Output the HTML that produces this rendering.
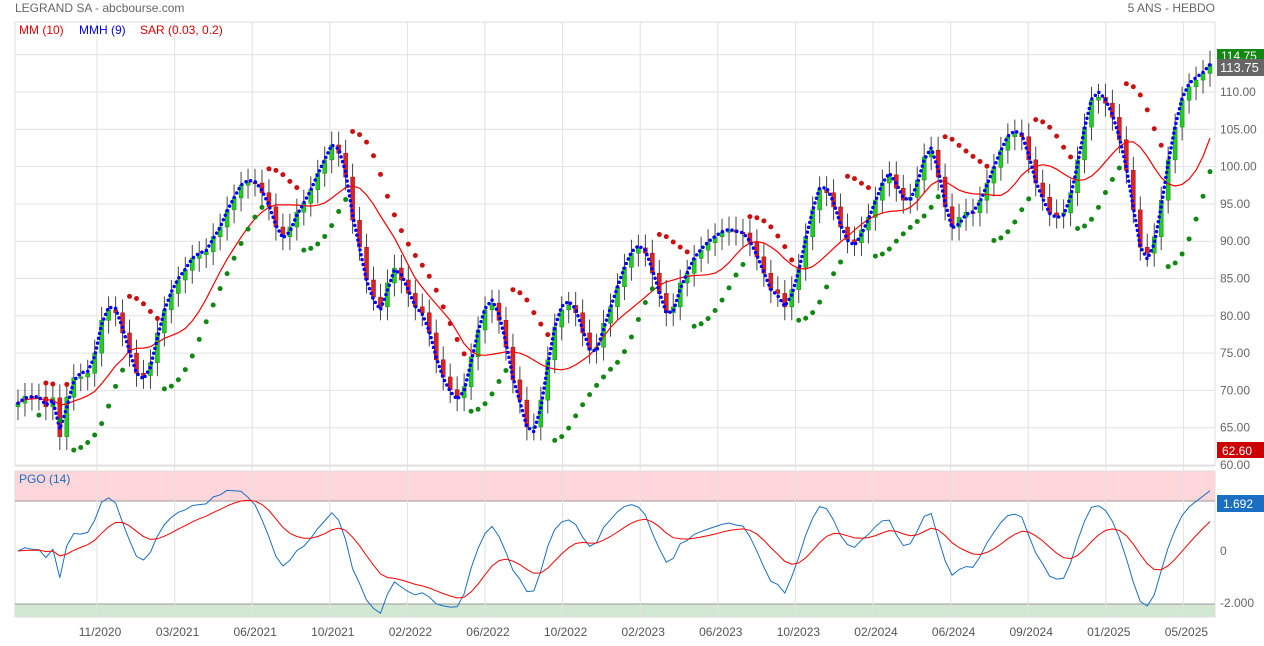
<!DOCTYPE html>
<html><head><meta charset="utf-8"><style>
body{margin:0;background:#fff;width:1264px;height:641px;overflow:hidden;font-family:"Liberation Sans",sans-serif}
svg text{font-family:"Liberation Sans",sans-serif}
</style></head><body>
<svg id="c" width="1264" height="641" xmlns="http://www.w3.org/2000/svg">
<text x="15" y="12" font-size="12" fill="#666">LEGRAND SA - abcbourse.com</text>
<text x="1215" y="12" font-size="12" fill="#666" text-anchor="end">5 ANS - HEBDO</text>
<rect x="15" y="22" width="1200" height="444" fill="none" stroke="#ddd"/>
<rect x="15" y="471" width="1200" height="30" fill="#ffd6d9"/>
<rect x="15" y="604" width="1200" height="13" fill="#d3e8d3"/>
<rect x="15" y="471" width="1200" height="146" fill="none" stroke="#ddd"/>
<line x1="15" x2="1215" y1="501" y2="501" stroke="#999"/>
<line x1="15" x2="1215" y1="604" y2="604" stroke="#999"/>
<g id="grid"></g>
<g id="marks"></g>
<text x="19" y="34" font-size="12" fill="#e00">MM (10)</text>
<text x="79" y="34" font-size="12" fill="#00e">MMH (9)</text>
<text x="140" y="34" font-size="12" fill="#d00">SAR (0.03, 0.2)</text>
<text x="19" y="483" font-size="12" fill="#1a6fc4">PGO (14)</text>
<rect x="1217" y="49" width="47" height="14" fill="#118811"/>
<text x="1221" y="60" font-size="12" fill="#fff">114.75</text>
<rect x="1217" y="59" width="47" height="17" fill="#666"/>
<text x="1220" y="72" font-size="13" fill="#fff">113.75</text>
<rect x="1217" y="442" width="47" height="16" fill="#c00"/>
<text x="1222" y="455" font-size="12" fill="#fff">62.60</text>
<rect x="1217" y="495" width="47" height="17" fill="#1a6fc4"/>
<text x="1223" y="508" font-size="12" fill="#fff">1.692</text>
</svg>
<script>
const closes=[68.3,69.2,69.1,69.1,67.8,69,63.8,69.1,71.7,71.8,72.3,75,79.4,80.8,80.4,77.7,75,72.3,72,73.7,77.7,80.8,83,84.8,86.1,87.7,88.2,88.6,90.6,91.9,94.2,95.8,97.5,97.9,97.8,96.5,94.6,91.9,90.6,91.9,93.9,95.1,96.9,99.1,100.9,102.9,101.8,98.6,92.8,89.2,84.8,82.5,81.2,84.4,86.4,84.8,83,81.2,80.4,77.7,74.1,71.8,70.1,69,70.5,74.5,78.1,80.8,81.7,79.4,75.8,71.4,68.7,65.1,65.1,68.7,74.1,78.5,80.8,81.4,80.4,77.7,75.4,75.8,79,81.2,83.9,86.5,88.4,89.1,88.4,85.7,83,80.4,81.2,84.4,85.7,87.7,88.8,89.8,90.6,91.2,91.5,91.2,91.1,89.8,87.9,85.7,83.5,83,81.2,83.5,86.5,90.6,94.2,96.9,96.5,94.6,91.9,90.2,89.8,91.5,93.2,95.5,97.8,98.9,97.1,95.5,95.9,98.2,101.3,102.2,98.6,94.6,91.9,93.2,93.9,93.8,95.5,97.8,99.9,102.2,104,104.5,104,100.9,97.8,95.9,93.8,93.5,93.8,96.5,100.9,105.3,108.9,109.3,108.5,106.6,103.6,99.5,94.2,89.2,88.4,90.6,95.5,100.9,105.3,108.9,110.7,111.6,112.5,113.75];
const priceTicks=[115,110,105,100,95,90,85,80,75,70,65,60];
const pgoTicks=[0,-2];
const pgoTickLabels=["0","-2.000"];
const dateLabels=["11/2020","03/2021","06/2021","10/2021","02/2022","06/2022","10/2022","02/2023","06/2023","10/2023","02/2024","06/2024","09/2024","01/2025","05/2025"];

const NS="http://www.w3.org/2000/svg";
const N=closes.length;
const xS=i=>18+i*(1210-18)/(N-1);
const yP=p=>92+(110-p)*7.46;
const yG=v=>551-v*26;
function mk(tag,attrs,parent){const e=document.createElementNS(NS,tag);for(const k in attrs)e.setAttribute(k,attrs[k]);parent.appendChild(e);return e;}
const grid=document.getElementById('grid'),marks=document.getElementById('marks');

priceTicks.forEach(p=>{
  const y=yP(p);
  if(y>24&&y<466){const l=mk('line',{x1:15,x2:1215,y1:y,y2:y,stroke:'#e2e2e2'},grid);
  
  }
  const t=mk('text',{x:1220,y:y+4,'font-size':12,fill:'#666'},grid);t.textContent=p.toFixed(2);
  
  
});
pgoTicks.forEach((v,i)=>{
  const t=mk('text',{x:1220,y:yG(v)+4,'font-size':12,fill:'#666'},grid);t.textContent=pgoTickLabels[i];
  
  
});
dateLabels.forEach((d,i)=>{
  const x=97+i*77.6;
  const l=mk('line',{x1:x,x2:x,y1:22,y2:617,stroke:'#e2e2e2'},grid);
  
  
  const t=mk('text',{x:x+3,y:636,'font-size':12,fill:'#555','text-anchor':'middle'},grid);t.textContent=d;
  
  
});

// derived OHLC
const opens=closes.map((c,i)=>i?closes[i-1]:c-0.5);
const highs=closes.map((c,i)=>Math.max(c,opens[i])+1.8);
const lows=closes.map((c,i)=>Math.min(c,opens[i])-1.8);

// MM 10
const mm=closes.map((c,i)=>{const s=closes.slice(Math.max(0,i-9),i+1);return s.reduce((a,b)=>a+b,0)/s.length;});
// Hull-type MA (scaled to sample density)
function wma(arr,n){return arr.map((v,i)=>{let s=0,w=0;for(let k=0;k<n&&i-k>=0;k++){s+=arr[i-k]*(n-k);w+=n-k;}return s/w;});}
const w2=wma(closes,2),w4=wma(closes,4);
const hma=wma(w2.map((v,i)=>2*v-w4[i]),2).map((v,i)=>(v+closes[i])/2);
// SAR
const sar=[],sarUp=[];
(function(){let up=true,af=0.03,ep=highs[0],s=lows[0];
for(let i=0;i<N;i++){
  if(i>0){s=s+af*(ep-s);
    if(up){if(lows[i]<s){up=false;s=ep;ep=lows[i];af=0.03;}else if(highs[i]>ep){ep=highs[i];af=Math.min(0.2,af+0.03);}}
    else{if(highs[i]>s){up=true;s=ep;ep=highs[i];af=0.03;}else if(lows[i]<ep){ep=lows[i];af=Math.min(0.2,af+0.03);}}}
  sar.push(s);sarUp.push(up);}})();
// PGO 14
const tr=closes.map((c,i)=>highs[i]-lows[i]);
const atr=[];tr.forEach((t,i)=>atr.push(i?atr[i-1]+(t-atr[i-1])*2/15:t));
const sma14=closes.map((c,i)=>{const s=closes.slice(Math.max(0,i-13),i+1);return s.reduce((a,b)=>a+b,0)/s.length;});
const pgo=closes.map((c,i)=>(c-sma14[i])/atr[i]/0.85);
const sig=[];pgo.forEach((v,i)=>sig.push(i?sig[i-1]+(v-sig[i-1])*2/11:v));

// candles
closes.forEach((c,i)=>{
  const x=xS(i),o=opens[i];
  const w=mk('line',{x1:x,x2:x,y1:yP(highs[i]),y2:yP(lows[i]),stroke:'#444','stroke-width':1},marks);
  
  
  const top=yP(Math.max(o,c)),bot=yP(Math.min(o,c));
  const r=mk('rect',{x:x-2,y:top,width:4,height:Math.max(1.5,bot-top),fill:c>=o?'#22cc22':'#dd2222',stroke:c>=o?'#118811':'#991111','stroke-width':0.5},marks);
  
  
});
function path(arr,yf){return arr.map((v,i)=>(i?'L':'M')+xS(i).toFixed(1)+','+yf(v).toFixed(1)).join('');}
const mmL=mk('path',{d:path(mm,yP),fill:'none',stroke:'#f00','stroke-width':1.2},marks);


const hL=mk('path',{d:path(hma,yP),fill:'none',stroke:'#00f','stroke-width':3.5,'stroke-dasharray':'0 5','stroke-linecap':'round'},marks);


sar.forEach((s,i)=>{
  if(i<3)return;
  const d=mk('circle',{cx:xS(i),cy:yP(s),r:2.5,fill:sarUp[i]?'#118811':'#cc1111'},marks);
  
  
});
const clip=mk('clipPath',{id:'pc'},marks);mk('rect',{x:15,y:471,width:1200,height:146},clip);
const pL=mk('path',{d:path(pgo,yG),fill:'none',stroke:'#1a6fc4','stroke-width':1,'clip-path':'url(#pc)'},marks);


const sL=mk('path',{d:path(sig,yG),fill:'none',stroke:'#f00','stroke-width':1,'clip-path':'url(#pc)'},marks);


</script>
</body></html>
